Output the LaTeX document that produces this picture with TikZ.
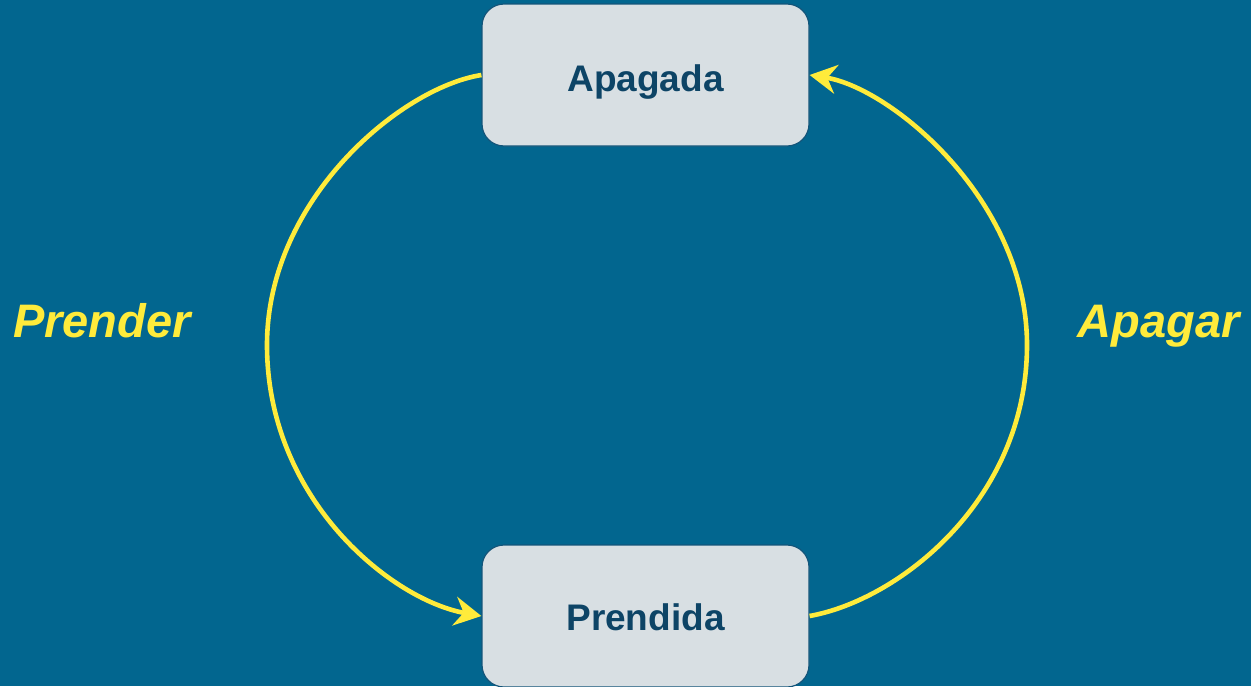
\documentclass[tikz,border=0pt]{standalone}
\usepackage{fontspec}
\setmainfont{Liberation Sans}
\usetikzlibrary{arrows.meta}
\definecolor{bgblue}{HTML}{02668F}
\definecolor{boxfill}{HTML}{D8DFE3}
\definecolor{boxline}{HTML}{14557A}
\definecolor{boxtext}{HTML}{0D4466}
\definecolor{yel}{HTML}{FFEB3B}
\tikzset{
  statebox/.style={draw=boxline, line width=1.2pt, fill=boxfill, rounded corners=22pt,
    minimum width=327pt, minimum height=142pt, inner sep=0pt},
  statetext/.style={anchor=base, text=boxtext, font=\fontsize{37}{44}\selectfont\bfseries, inner sep=0pt},
  actlabel/.style={text=yel, font=\fontsize{47}{56}\selectfont\bfseries\itshape, inner sep=0pt},
  trans/.style={draw=yel, line width=4.6pt, -{Stealth[length=27pt, width=29pt, inset=9pt]}}
}
\begin{document}
\begin{tikzpicture}[x=1pt, y=-1pt]
  \fill[bgblue] (0,0) rectangle (1251,686);
  \useasboundingbox (0,0) rectangle (1251,686);
  \node[statebox] (off) at (645.5,75) {};
  \node[statebox] (on) at (645.5,616) {};
  \node[statetext] (offt) at (645.5,91) {Apagada};
  \node[statetext] (ont) at (645.5,630) {Prendida};
  \node[actlabel, anchor=base west] (pr) at (13,337) {Prender};
  \node[actlabel, anchor=base east] (ap) at (1240,337) {Apagar};
  \coordinate (lm) at (267,345);
  \coordinate (rm) at (1027,345);
  \draw[trans] (off.west) .. controls (400,88) and (267,200) .. (lm)
     .. controls (267,500) and (392,600) .. (on.west);
  \draw[trans] (on.east) .. controls (899,600) and (1027,500) .. (rm)
     .. controls (1027,200) and (891,88) .. (off.east);
\end{tikzpicture}
\end{document}
